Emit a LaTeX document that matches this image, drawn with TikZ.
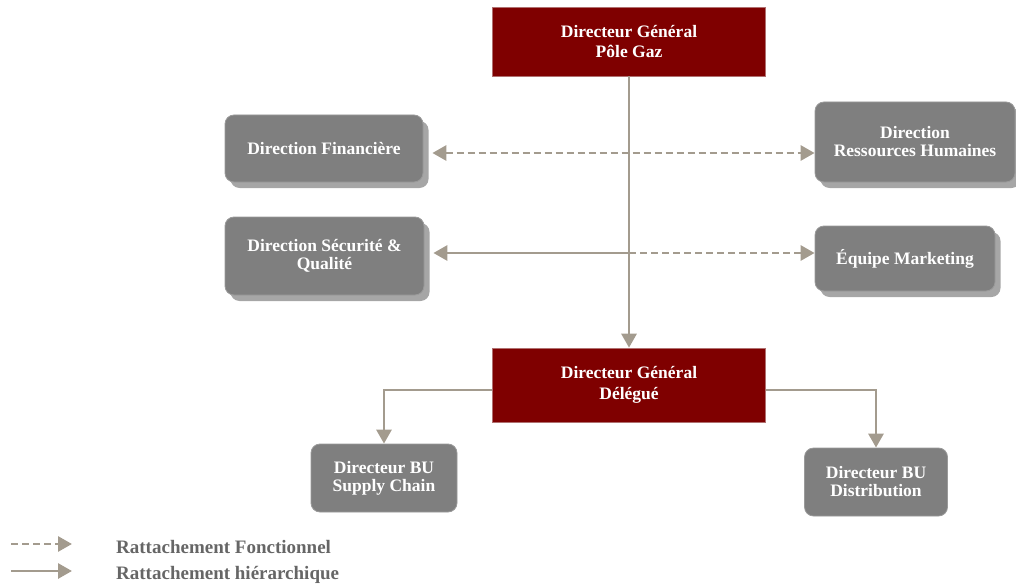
\documentclass[tikz,border=0pt]{standalone}
\usepackage{fontspec}
\setmainfont{Liberation Serif}
\usetikzlibrary{arrows.meta,shadows}
\definecolor{maroonbox}{HTML}{7F0000}
\definecolor{maroonedge}{HTML}{B07070}
\definecolor{graybox}{HTML}{7F7F7F}
\definecolor{grayedge}{HTML}{9A9A9A}
\definecolor{shgray}{HTML}{A6A6A6}
\definecolor{linecol}{HTML}{A39B8E}
\definecolor{legtext}{HTML}{666666}
\tikzset{
  boxtext/.style={text=white, font=\fontsize{17.5}{18}\selectfont\bfseries, align=center, inner sep=0pt},
  redbox/.style={boxtext, rectangle, fill=maroonbox, draw=maroonedge, line width=0.6pt, font=\fontsize{17.5}{20.5}\selectfont\bfseries},
  graynode/.style={boxtext, rectangle, rounded corners=9pt, fill=graybox, draw=grayedge, line width=0.8pt},
  shadowbox/.style={graynode, drop shadow={shadow xshift=5.5pt, shadow yshift=-6pt, fill=shgray, opacity=1}},
  conn/.style={draw=linecol, line width=2.9pt, -{Triangle[length=14pt,width=15pt]}},
  hier/.style={conn},
  func/.style={conn, dash pattern=on 7pt off 4pt},
  legendtext/.style={text=legtext, font=\fontsize{19}{21}\selectfont\bfseries, inner sep=0pt, anchor=base west}
}
\begin{document}
\begin{tikzpicture}[x=1pt,y=-1pt]
\useasboundingbox (0,0) rectangle (1016,588);

% boxes
\node[redbox, minimum width=273pt, minimum height=69pt] (top) at (629,41.5) {Directeur Général\\Pôle Gaz};
\node[redbox, minimum width=273pt, minimum height=74pt] (dgd) at (629,385) {Directeur Général\\Délégué};

\node[shadowbox, minimum width=198pt, minimum height=67pt] (df) at (324,148.5) {Direction Financière};
\node[shadowbox, minimum width=199pt, minimum height=78pt] (dsq) at (324.5,256) {Direction Sécurité \&\\Qualité};
\node[shadowbox, minimum width=200pt, minimum height=80pt] (drh) at (915,142) {Direction\\Ressources Humaines};
\node[shadowbox, minimum width=180pt, minimum height=65pt] (em) at (905,258.5) {Équipe Marketing};

\node[graynode, minimum width=146pt, minimum height=68pt] (sc) at (384,478) {Directeur BU\\Supply Chain};
\node[graynode, minimum width=143pt, minimum height=68pt] (dist) at (876,482) {Directeur BU\\Distribution};

% helper levels
\coordinate (yf) at (0,153);
\coordinate (ys) at (0,253);
\coordinate (yb) at (0,390);

% connectors
\draw[hier] (top) -- (dgd);
\draw[func, {Triangle[length=14pt,width=15pt]}-{Triangle[length=14pt,width=15pt]}] ([xshift=9pt]df.east |- yf) -- (drh.west |- yf);
\coordinate (cs) at (top.south |- ys);
\draw[hier] (cs) -- ([xshift=9pt]dsq.east |- ys);
\draw[func] (cs) -- (em.west |- ys);
\draw[hier] (dgd.west |- yb) -| (sc.north);
\draw[hier] (dgd.east |- yb) -| (dist.north);

% legend
\coordinate (la1) at (11,544);
\coordinate (lb1) at (72,544);
\coordinate (la2) at (11,571);
\coordinate (lb2) at (72,571);
\draw[func] (la1) -- (lb1);
\draw[hier] (la2) -- (lb2);
\node[legendtext] (lt1) at (116,553) {Rattachement Fonctionnel};
\node[legendtext] (lt2) at (116,579) {Rattachement hiérarchique};
\end{tikzpicture}
\end{document}
